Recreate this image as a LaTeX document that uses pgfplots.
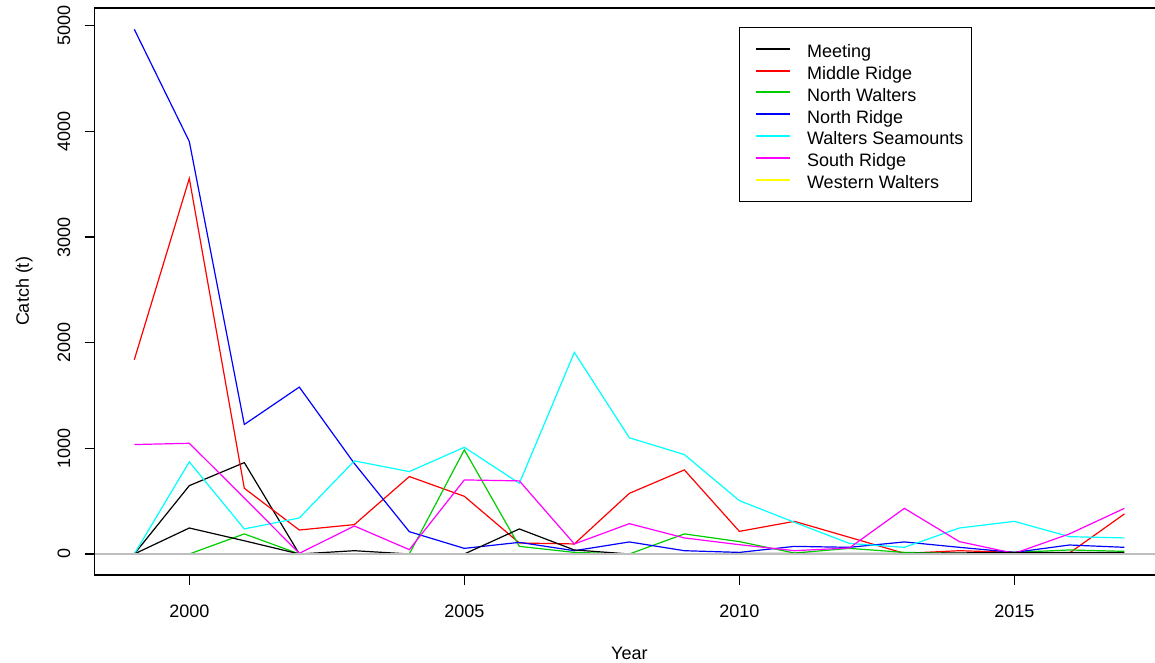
\documentclass[border=0pt]{standalone}
\usepackage{fontspec}
\setmainfont{Liberation Sans}
\usepackage{pgfplots}
\pgfplotsset{compat=1.18}
\usepackage{pgfplotstable}
\definecolor{rblack}{RGB}{0,0,0}
\definecolor{rred}{RGB}{255,0,0}
\definecolor{rgreen}{RGB}{0,205,0}
\definecolor{rblue}{RGB}{0,0,255}
\definecolor{rcyan}{RGB}{0,255,255}
\definecolor{rmagenta}{RGB}{255,0,255}
\definecolor{ryellow}{RGB}{255,255,0}
\definecolor{rgray}{RGB}{190,190,190}
\pgfplotstableread{
year me   mr   nw   nr   ws   sr   ww  me2
1999 0    1839 0    4967 0    1036 0   0
2000 647  3555 0    3905 872  1048 0   246
2001 865  622  190  1226 237  530  0   125
2002 0    227  0    1580 341  6    0   0
2003 0    278  0    857  881  265  0   31
2004 0    733  0    211  780  41   0   0
2005 0    546  986  53   1010 701  0   0
2006 0    104  72   110  669  692  0   237
2007 0    95   15   31   1908 95   0   38
2008 0    574  0    114  1100 287  0   0
2009 0    796  190  31   941  152  0   0
2010 0    214  117  15   505  88   0   5
2011 0    309  9    72   300  31   0   5
2012 0    158  53   63   100  57   0   5
2013 0    6    15   114  63   432  0   5
2014 0    31   6    63   246  117  0   10
2015 0    15   15   15   309  6    0   15
2016 0    9    38   85   164  190  0   15
2017 0    379  25   63   152  432  0   15
}\data
\begin{document}
\begin{tikzpicture}
\begin{axis}[
  scale only axis, width=534.65pt, height=283.5pt,
  xmin=1998.28, xmax=2017.72, ymin=-199, ymax=5169,
  xtick={2000,2005,2010,2015}, ytick={0,1000,2000,3000,4000,5000},
  xtick pos=bottom, ytick pos=left,
  tick align=outside, major tick length=5pt,
  every tick/.style={black, line width=0.6pt},
  axis line style={line width=0.6pt},
  font=\fontsize{9}{11}\selectfont,
  /pgf/number format/assume math mode=true,
  /pgf/number format/1000 sep={},
  scaled ticks=false,
  yticklabel style={xshift=-7pt, rotate=90, anchor=south, inner sep=0pt},
  xticklabel style={yshift=-10pt, anchor=north, inner sep=0pt},
  xlabel={Year}, ylabel={Catch (t)},
  xlabel style={at={(axis description cs:0.5,-0.1376)}, anchor=center},
  ylabel style={at={(axis description cs:-0.066,0.5)}, anchor=center},
  legend cell align=left,
  legend style={at={(0.6028,0.967)}, anchor=north west, draw=black, line width=0.5pt,
    inner xsep=4pt, inner ysep=5.35pt, row sep=0pt, column sep=7.85pt,
    nodes={inner sep=0pt, text height=9.85pt, text depth=1.05pt}},
  legend image code/.code={\draw[#1, line width=1pt] (3.85pt,0pt) -- (21pt,0pt); \path (0pt,0pt);},
]
\coordinate (sw) at (rel axis cs:0,0);
\addplot[rblack, line width=0.6pt] table[x=year,y=me] {\data};
\addlegendentry{Meeting}
\addplot[rred, line width=0.6pt] table[x=year,y=mr] {\data};
\addlegendentry{Middle Ridge}
\addplot[rgreen, line width=0.6pt] table[x=year,y=nw] {\data};
\addlegendentry{North Walters}
\addplot[rblue, line width=0.6pt] table[x=year,y=nr] {\data};
\addlegendentry{North Ridge}
\addplot[rcyan, line width=0.6pt] table[x=year,y=ws] {\data};
\addlegendentry{Walters Seamounts}
\addplot[rmagenta, line width=0.6pt] table[x=year,y=sr] {\data};
\addlegendentry{South Ridge}
\addplot[ryellow, line width=0.6pt] table[x=year,y=ww] {\data};
\addlegendentry{Western Walters}
\addplot[rblack, line width=0.6pt, forget plot] table[x=year,y=me2] {\data};
\addplot[rgray, line width=0.6pt, forget plot] coordinates {(1998.28,0) (2017.72,0)};
\end{axis}
\pgfresetboundingbox
\path[use as bounding box] ([shift={(-47.35pt,-44pt)}]sw) rectangle ([shift={(530.15pt,287.5pt)}]sw);
\end{tikzpicture}
\end{document}
